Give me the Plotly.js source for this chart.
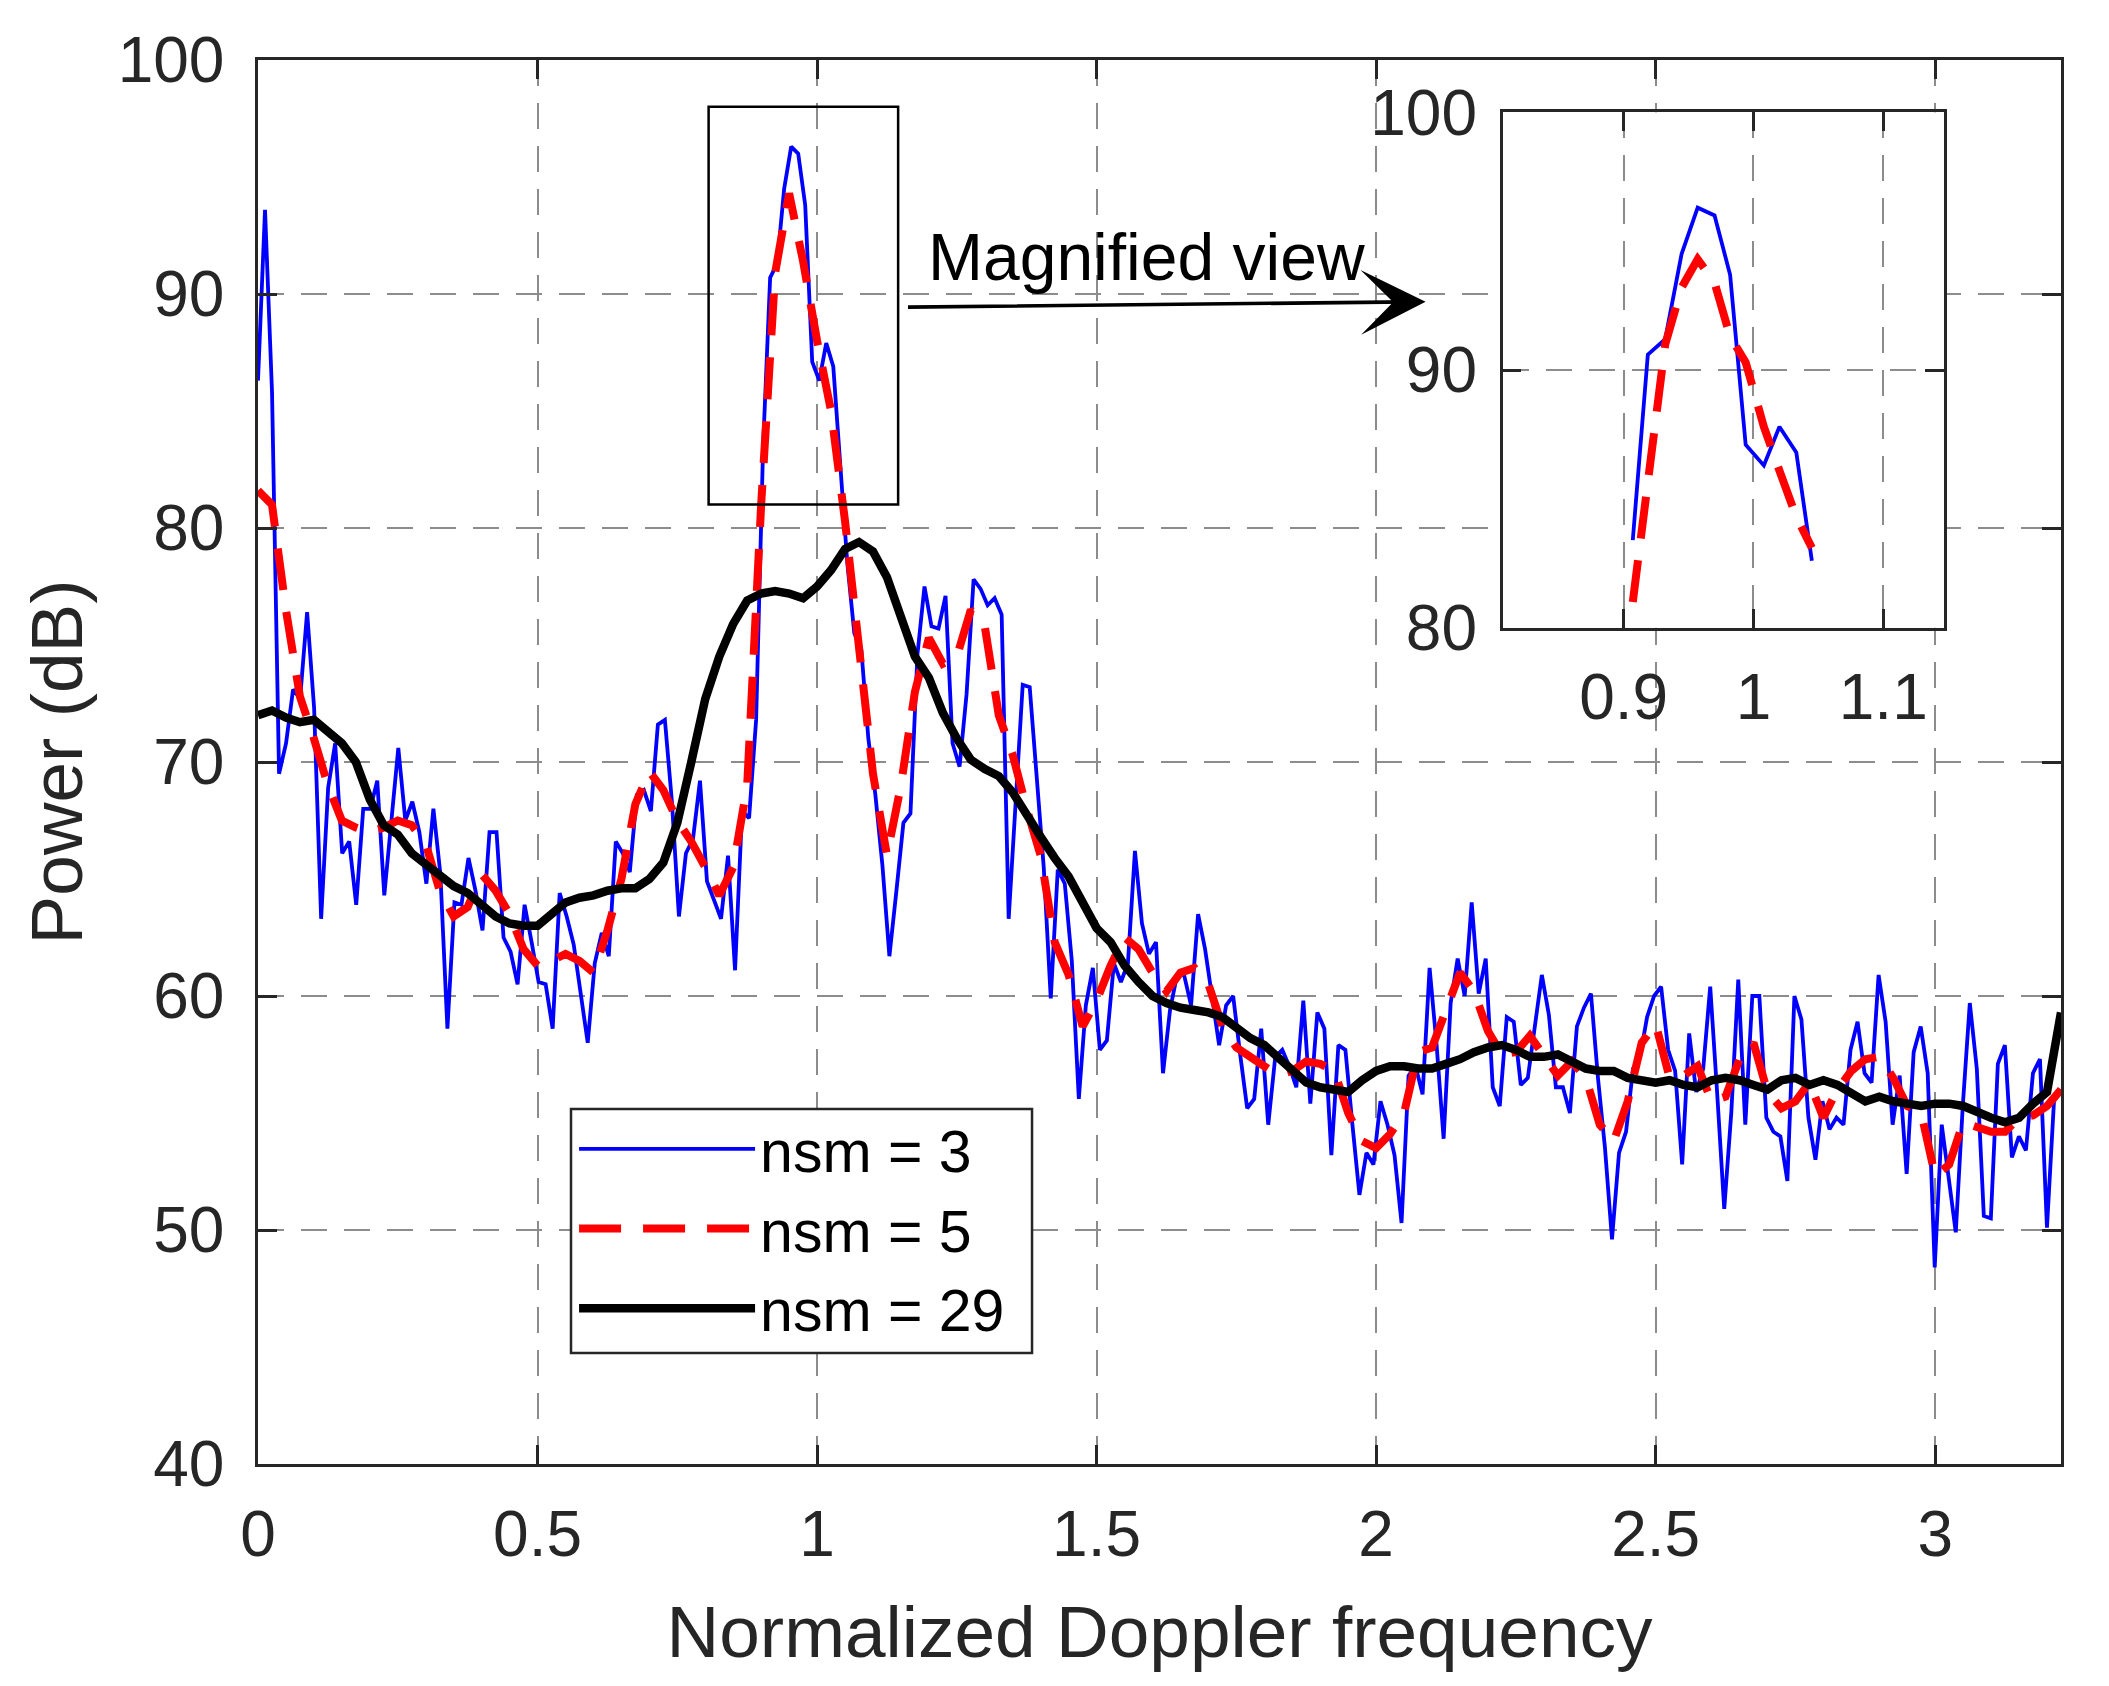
<!DOCTYPE html>
<html>
<head>
<meta charset="utf-8">
<script src="https://cdn.plot.ly/plotly-3.0.1.min.js"></script>
<style>
  html, body { margin: 0; padding: 0; background: #ffffff; }
  #chart { width: 2109px; height: 1686px; }
</style>
</head>
<body>
<div id="chart"></div>
<script>
// nsm = 3, one value per frequency bin
const powerNsm3 = [
    86.3, 93.6, 85.8, 69.5, 70.8, 73.1, 72.7, 76.4, 72.3, 63.3,
    68.9, 70.8, 66.1, 66.6, 63.9, 68.0, 68.0, 69.2, 64.3, 67.3,
    70.6, 67.5, 68.3, 67.0, 64.8, 68.0, 65.2, 58.6, 64.0, 63.9,
    65.9, 64.5, 62.8, 67.0, 67.0, 62.5, 61.9, 60.5, 63.9, 62.3,
    60.6, 60.5, 58.6, 64.4, 63.4, 62.2, 60.2, 58.0, 61.4, 62.7,
    61.7, 66.6, 66.1, 65.3, 68.6, 68.8, 67.9, 71.6, 71.8, 68.3,
    63.4, 66.1, 66.7, 69.2, 64.9, 64.1, 63.3, 66.0, 61.1, 67.9,
    67.6, 71.8, 83.5, 90.7, 91.3, 94.5, 96.3, 96.0, 93.8, 87.1,
    86.3, 87.9, 86.9, 82.7, 78.5, 75.5, 74.8, 71.0, 68.6, 65.6,
    61.7, 64.5, 67.4, 67.8, 74.6, 77.5, 75.8, 75.7, 77.1, 70.8,
    69.8, 72.9, 77.8, 77.4, 76.7, 77.0, 76.3, 63.3, 68.3, 73.3,
    73.2, 69.5, 65.5, 59.9, 65.4, 64.8, 61.5, 55.6, 59.6, 61.2,
    57.7, 58.1, 61.4, 60.6, 61.4, 66.2, 63.1, 61.8, 62.3, 56.7,
    59.4, 60.9, 60.9, 59.6, 63.5, 62.0, 60.0, 57.9, 59.6, 60.0,
    57.5, 55.2, 55.6, 58.6, 54.5, 57.4, 57.7, 57.0, 56.1, 59.8,
    55.4, 59.3, 58.6, 53.2, 57.9, 57.7, 54.5, 51.5, 53.3, 52.8,
    55.5, 54.5, 53.2, 50.3, 56.6, 57.0, 55.8, 61.2, 57.9, 53.9,
    59.7, 61.6, 60.0, 64.0, 60.1, 61.6, 56.1, 55.3, 59.1, 58.9,
    56.2, 56.5, 58.7, 60.9, 59.2, 56.1, 56.1, 55.0, 58.7, 59.5,
    60.1, 56.5, 53.5, 49.6, 53.3, 54.2, 56.9, 57.4, 59.1, 60.0,
    60.4, 57.7, 56.8, 52.8, 58.4, 55.9, 56.9, 60.4, 55.8, 50.9,
    55.0, 60.7, 54.5, 60.0, 60.0, 54.8, 54.2, 54.0, 52.1, 60.0,
    59.0, 54.8, 53.0, 55.5, 54.3, 54.8, 54.5, 57.7, 58.9, 56.7,
    56.3, 60.9, 58.9, 54.5, 56.6, 52.4, 57.6, 58.7, 56.7, 48.4,
    54.5, 52.1, 49.9, 55.3, 59.7, 56.9, 50.6, 50.5, 57.1, 57.9,
    53.1, 54.0, 53.4, 56.7, 57.3, 50.1, 55.5, 56.0
];

// nsm = 5 and nsm = 29, read every 0.025
const powerNsm5 = [
    81.6, 81.0, 76.5, 72.8, 71.0, 69.0, 67.5, 67.2, 67.0, 67.2,
    67.5, 67.3, 66.5, 64.5, 63.4, 63.8, 65.2, 64.5, 63.5, 62.0,
    61.3, 61.5, 61.8, 61.5, 61.0, 62.8, 65.0, 68.2, 69.6, 68.8,
    67.5, 66.6, 65.5, 64.3, 65.5, 69.0, 81.0, 90.9, 94.3, 91.4,
    88.0, 85.0, 80.3, 75.0, 69.5, 66.0, 69.0, 73.0, 75.3, 74.2,
    74.5, 76.5, 75.8, 72.0, 70.3, 68.0, 66.0, 62.3, 60.9, 58.7,
    59.8, 61.3, 62.5, 62.0, 61.0, 60.2, 61.0, 61.2, 60.5, 58.7,
    57.8, 57.4, 57.0, 56.6, 56.8, 57.2, 57.1, 56.8, 55.0, 53.8,
    53.5, 54.1, 55.0, 57.6, 57.8, 59.5, 61.0, 60.2, 58.5, 57.5,
    57.6, 58.3, 57.5, 56.6, 57.2, 56.5, 54.5, 53.8, 55.5, 58.0,
    58.8, 56.5, 56.6, 57.0, 55.5, 55.7, 57.3, 58.0, 55.9, 55.2,
    55.5, 56.3, 54.8, 56.0, 56.8, 57.3, 57.4, 56.5, 55.3, 55.0,
    52.3, 52.8, 54.6, 54.4, 54.2, 54.2, 54.8, 54.9, 55.3, 56.0
];

const powerNsm29 = [
    72.0, 72.2, 71.9, 71.7, 71.8, 71.3, 70.8, 70.0, 68.4, 67.3,
    66.9, 66.1, 65.6, 65.1, 64.7, 64.4, 63.9, 63.4, 63.1, 63.0,
    63.0, 63.5, 64.0, 64.2, 64.3, 64.5, 64.6, 64.6, 65.0, 65.7,
    67.4, 70.0, 72.7, 74.5, 75.9, 76.9, 77.2, 77.3, 77.2, 77.0,
    77.5, 78.2, 79.1, 79.4, 79.0, 77.9, 76.2, 74.5, 73.6, 72.1,
    71.0, 70.1, 69.7, 69.4, 68.7, 67.7, 66.8, 65.9, 65.1, 64.0,
    62.9, 62.3, 61.3, 60.6, 60.0, 59.7, 59.5, 59.4, 59.3, 59.1,
    58.6, 58.2, 57.9, 57.4, 56.9, 56.3, 56.1, 56.0, 55.9, 56.4,
    56.8, 57.0, 57.0, 56.9, 56.9, 57.1, 57.3, 57.6, 57.8, 57.9,
    57.7, 57.4, 57.4, 57.5, 57.2, 56.9, 56.8, 56.8, 56.5, 56.4,
    56.3, 56.4, 56.2, 56.1, 56.4, 56.5, 56.4, 56.2, 56.0, 56.4,
    56.5, 56.2, 56.4, 56.2, 55.9, 55.5, 55.7, 55.5, 55.4, 55.3,
    55.4, 55.4, 55.3, 55.0, 54.8, 54.6, 54.8, 55.4, 55.9, 59.3
];

// magnified view
const insetFreq = [0.907, 0.9186, 0.932, 0.9446, 0.957, 0.970, 0.982, 0.994, 1.008, 1.020, 1.033, 1.045];
const insetNsm3 = [83.4, 90.6, 91.2, 94.5, 96.3, 96.0, 93.7, 87.1, 86.3, 87.8, 86.8, 82.6];
const insetNsm5 = [81.0, 85.9, 91.0, 93.2, 94.3, 93.4, 91.3, 90.3, 87.8, 86.1, 84.3, 83.1];

const xTicks = [0, 0.5, 1, 1.5, 2, 2.5, 3];
const yTicks = [40, 50, 60, 70, 80, 90, 100];
const insetXTicks = [0.9, 1, 1.1];
const insetYTicks = [80, 90, 100];

const fMax = 3.225;
const freqNsm3 = powerNsm3.map((_, i) => i * fMax / (powerNsm3.length - 1));
const freqSmooth = powerNsm5.map((_, i) => i * 0.025);

const fontFamily = '"Liberation Sans", Arial, Helvetica, sans-serif';
const axisColor = '#262626';
const gridColor = '#8c8c8c';

function axisStyle(extra) {
    return Object.assign({
        showline: true,
        linecolor: axisColor,
        linewidth: 2.5,
        mirror: 'ticks',
        ticks: 'inside',
        ticklen: 19,
        tickwidth: 2.5,
        tickcolor: axisColor,
        showgrid: true,
        gridcolor: gridColor,
        gridwidth: 2,
        griddash: '26px,17px',
        zeroline: false,
        tickfont: {family: fontFamily, size: 64, color: axisColor}
    }, extra);
}

const blue = '#0000ff';
const red = '#ff0000';

const traces = [
    {
        x: freqNsm3, y: powerNsm3, type: 'scatter', mode: 'lines',
        name: 'nsm = 3', line: {color: blue, width: 3.8}
    },
    {
        x: freqSmooth, y: powerNsm5, type: 'scatter', mode: 'lines',
        name: 'nsm = 5', line: {color: red, width: 8, dash: '42px,22px'}
    },
    {
        x: freqSmooth, y: powerNsm29, type: 'scatter', mode: 'lines',
        name: 'nsm = 29', line: {color: '#000000', width: 8.5}
    },
    {
        x: insetFreq, y: insetNsm3, type: 'scatter', mode: 'lines',
        xaxis: 'x2', yaxis: 'y2', showlegend: false,
        line: {color: blue, width: 3.8}
    },
    {
        x: insetFreq, y: insetNsm5, type: 'scatter', mode: 'lines',
        xaxis: 'x2', yaxis: 'y2', showlegend: false,
        line: {color: red, width: 8, dash: '42px,22px'}
    }
];

const layout = {
    width: 2109,
    height: 1686,
    paper_bgcolor: '#ffffff',
    plot_bgcolor: '#ffffff',
    margin: {l: 258, r: 48, t: 60, b: 222},
    font: {family: fontFamily, color: axisColor},
    showlegend: true,
    xaxis: axisStyle({
        domain: [0, 1],
        range: [0, fMax],
        tickvals: xTicks,
        ticklabelstandoff: 12,
        title: {text: 'Normalized Doppler frequency', font: {family: fontFamily, size: 73, color: axisColor}, standoff: 38}
    }),
    yaxis: axisStyle({
        domain: [0, 1],
        range: [40, 100],
        tickvals: yTicks,
        ticklabelstandoff: 18,
        title: {text: 'Power (dB)', font: {family: fontFamily, size: 73, color: axisColor}, standoff: 12}
    }),
    xaxis2: axisStyle({
        domain: [0.6903, 0.9351],
        anchor: 'y2',
        range: [0.8067, 1.1468],
        tickvals: insetXTicks,
        ticktext: ['0.9', '1', '1.1'],
        ticklabelstandoff: 12
    }),
    yaxis2: axisStyle({
        domain: [0.5956, 0.9627],
        anchor: 'x2',
        range: [80, 100],
        tickvals: insetYTicks,
        ticklabelstandoff: 10
    }),
    // legend entries sit on a framed white box drawn as a shape
    legend: {
        x: 0.1753, y: 0.2564, xanchor: 'left', yanchor: 'top',
        bgcolor: 'rgba(0,0,0,0)', borderwidth: 0,
        font: {family: fontFamily, size: 59, color: '#000000'},
        itemwidth: 176, tracegroupgap: 0
    },
    shapes: [
        {
            type: 'rect', xref: 'x', yref: 'y',
            x0: 0.806, x1: 1.145, y0: 81, y1: 98,
            line: {color: '#000000', width: 2.5}
        },
        {
            type: 'rect', xref: 'paper', yref: 'paper', layer: 'above',
            x0: 0.1736, x1: 0.4293, y0: 0.0791, y1: 0.2529,
            fillcolor: '#ffffff',
            line: {color: axisColor, width: 2.5}
        }
    ],
    annotations: [
        {
            xref: 'x', yref: 'y', x: 1.59, y: 91.6,
            text: 'Magnified view', showarrow: false,
            font: {family: fontFamily, size: 66, color: '#000000'}
        },
        {
            xref: 'x', yref: 'y', axref: 'x', ayref: 'y',
            x: 2.0885, y: 89.67, ax: 1.16, ay: 89.44,
            text: '', showarrow: true,
            arrowhead: 3, arrowsize: 3.0, arrowwidth: 3.6,
            arrowcolor: '#000000', standoff: 0
        }
    ]
};

Plotly.newPlot('chart', traces, layout, {displayModeBar: false, responsive: false});
</script>
</body>
</html>
